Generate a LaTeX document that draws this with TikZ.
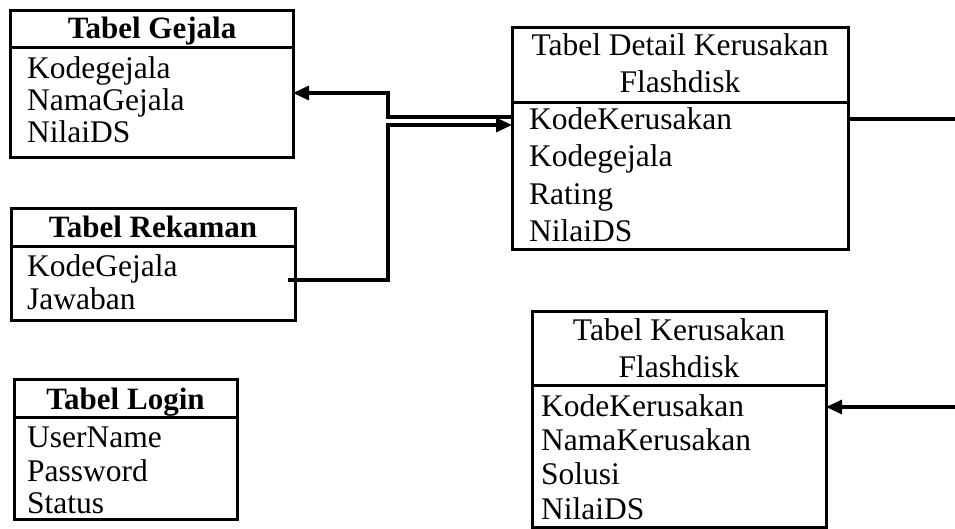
\documentclass[tikz,border=0pt]{standalone}
\usepackage{fontspec}
\setmainfont{Liberation Serif}
\usetikzlibrary{arrows.meta}

\tikzset{
  tbl/.style={draw=black, line width=3pt, inner sep=0pt, outer sep=0pt},
  sepline/.style={line width=3pt},
  field/.style={anchor=base west, inner sep=0pt, font=\fontsize{31.5}{36}\selectfont},
  ttl/.style={anchor=base, inner sep=0pt, font=\fontsize{31}{36}\selectfont\bfseries},
  ttlplain/.style={anchor=base, inner sep=0pt, font=\fontsize{31.5}{36}\selectfont},
  conn/.style={line width=3.2pt},
  tip/.style={-{Triangle[length=16pt,width=14pt]}}
}

\begin{document}
\begin{tikzpicture}[x=1pt,y=-1pt]
\useasboundingbox (0,0) rectangle (955,528);

% ---- Tabel Gejala
\node[tbl, minimum width=283pt, minimum height=147pt] (gejala) at (151.5,83.5) {};
\draw[sepline] (10,47) -- (293,47);
\node[ttl] (gejala-t) at (152,38) {Tabel Gejala};
\node[field] (gejala-1) at (27,78) {Kodegejala};
\node[field] (gejala-2) at (27,110) {NamaGejala};
\node[field] (gejala-3) at (27,142) {NilaiDS};

% ---- Tabel Rekaman
\node[tbl, minimum width=284pt, minimum height=112pt] (rekaman) at (153,264) {};
\draw[sepline] (11,246) -- (295,246);
\node[ttl] (rekaman-t) at (153,237) {Tabel Rekaman};
\node[field] (rekaman-1) at (27,276) {KodeGejala};
\node[field] (rekaman-2) at (27,309) {Jawaban};

% ---- Tabel Login
\node[tbl, minimum width=223pt, minimum height=140pt] (login) at (125.5,449) {};
\draw[sepline] (14,417) -- (237,417);
\node[ttl] (login-t) at (125.5,409) {Tabel Login};
\node[field] (login-1) at (27,447) {UserName};
\node[field] (login-2) at (27,481) {Password};
\node[field] (login-3) at (27,513) {Status};

% ---- Tabel Detail Kerusakan Flashdisk
\node[tbl, minimum width=336pt, minimum height=222pt] (detail) at (680,138) {};
\draw[sepline] (512,102) -- (848,102);
\node[ttlplain] (detail-t1) at (680,55) {Tabel Detail Kerusakan};
\node[ttlplain] (detail-t2) at (680,92) {Flashdisk};
\node[field] (detail-1) at (529,129) {KodeKerusakan};
\node[field] (detail-2) at (529,166) {Kodegejala};
\node[field] (detail-3) at (529,204) {Rating};
\node[field] (detail-4) at (529,241) {NilaiDS};

% ---- Tabel Kerusakan Flashdisk
\node[tbl, minimum width=294pt, minimum height=216pt] (rusak) at (679,419) {};
\draw[sepline] (532,385) -- (826,385);
\node[ttlplain] (rusak-t1) at (679,340) {Tabel Kerusakan};
\node[ttlplain] (rusak-t2) at (679,377) {Flashdisk};
\node[field] (rusak-1) at (541,416) {KodeKerusakan};
\node[field] (rusak-2) at (541,450) {NamaKerusakan};
\node[field] (rusak-3) at (541,484) {Solusi};
\node[field] (rusak-4) at (541,519) {NilaiDS};

% ---- relations
\coordinate (out-r) at (955,119);
\coordinate (in-r) at (955,407);

\draw[conn, tip] (detail.west |- 0,117) -| (388,93) -- (gejala.east |- 0,93);
\draw[conn, tip] ([xshift=-7pt]rekaman.east |- 0,280) -| (388,125) -- (detail.west |- 0,125);
\draw[conn] (detail.east |- out-r) -- (out-r);
\draw[conn, tip] (in-r) -- (rusak.east |- in-r);
\end{tikzpicture}
\end{document}
